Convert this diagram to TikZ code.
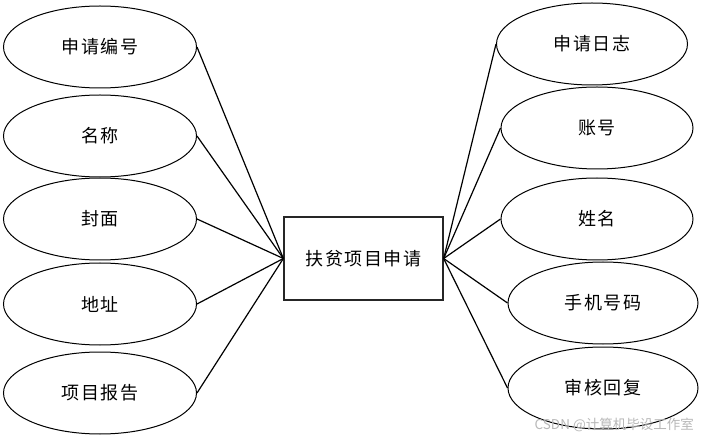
\documentclass[tikz,border=0pt]{standalone}
\usepackage{fontspec}
\newfontfamily\cjk[LetterSpace=8]{Noto Sans CJK SC}
\newfontfamily\cjkw{Noto Sans CJK SC}
\usetikzlibrary{shapes.geometric}
\tikzset{
  attr/.style={draw=black, line width=1pt, ellipse, minimum width=193pt, minimum height=82pt, inner sep=0pt, font=\cjk\fontsize{18}{20}\selectfont},
  entity/.style={draw=black!85, line width=1.3pt, rectangle, minimum width=159pt, minimum height=83pt, inner sep=0pt, font=\cjk\fontsize{18}{20}\selectfont},
  link/.style={draw=black, line width=1.2pt}
}
\begin{document}
\begin{tikzpicture}[x=1pt,y=-1pt]
\useasboundingbox (0,0) rectangle (704,438);
\node[entity] (E) at (363.5,258.5) {扶贫项目申请};
\node[attr] (L1) at (100,47) {申请编号};
\node[attr] (L2) at (100,136) {名称};
\node[attr] (L3) at (100,219) {封面};
\node[attr] (L4) at (100,304) {地址};
\node[attr] (L5) at (100,393) {项目报告};
\node[attr, minimum width=191pt] (R1) at (592,44) {申请日志};
\node[attr, minimum width=192pt] (R2) at (597,128) {账号};
\node[attr, minimum width=192pt] (R3) at (597,219) {姓名};
\node[attr, minimum width=190pt] (R4) at (603,303) {手机号码};
\node[attr, minimum width=190pt] (R5) at (603,388) {审核回复};
\foreach \n in {L1,L2,L3,L4,L5} \draw[link] (\n.east) -- (E.west);
\foreach \n in {R1,R2,R3,R4,R5} \draw[link] (\n.west) -- (E.east);
\node[font=\cjkw\fontsize{13.5}{15}\selectfont, text=black!28, anchor=east, inner sep=0pt] (W) at (694,425) {CSDN @计算机毕设工作室};
\end{tikzpicture}
\end{document}
